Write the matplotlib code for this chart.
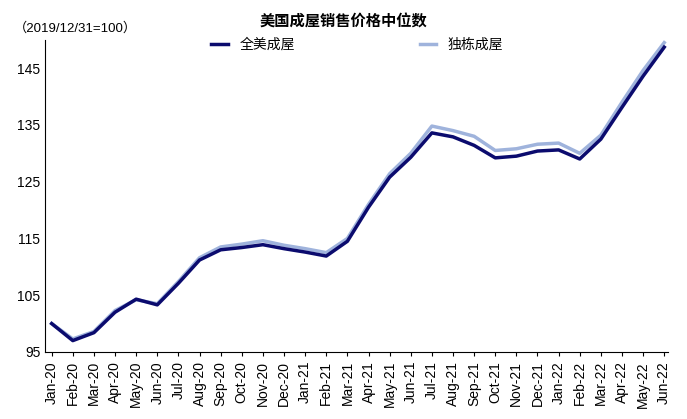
import matplotlib
matplotlib.use("Agg")
import matplotlib.pyplot as plt

plt.rcParams["font.family"] = ["Liberation Sans", "Noto Sans CJK SC"]

months = ["Jan-20","Feb-20","Mar-20","Apr-20","May-20","Jun-20","Jul-20","Aug-20","Sep-20","Oct-20",
          "Nov-20","Dec-20","Jan-21","Feb-21","Mar-21","Apr-21","May-21","Jun-21","Jul-21","Aug-21",
          "Sep-21","Oct-21","Nov-21","Dec-21","Jan-22","Feb-22","Mar-22","Apr-22","May-22","Jun-22"]
all_homes = [100,97,98.4,102,104.3,103.3,107.1,111.2,113,113.4,113.9,113.2,112.6,111.9,114.5,120.5,
             125.8,129.3,133.6,132.9,131.4,129.2,129.5,130.4,130.6,129,132.5,138.1,143.6,148.7]
single_family = [100,97.3,98.6,102.3,104.2,103.5,107.4,111.6,113.5,114,114.6,113.8,113.2,112.5,115,121,
                 126.4,130,134.8,134,133,130.5,130.8,131.6,131.8,130,133.2,139,144.6,149.5]
yticks = [95,105,115,125,135,145]

fig = plt.figure(figsize=(6.87,4.19), dpi=100)
ax = fig.add_axes([0.066, 0.16, 0.907, 0.745])
x = range(len(months))
l1, = ax.plot(x, all_homes, color="#0b0b6e", lw=2.5, label="全美成屋")
l2, = ax.plot(x, single_family, color="#9fb3dc", lw=2.5, label="独栋成屋", zorder=1)
ax.set_xlim(-0.3, len(months)-1+0.2)
ax.set_ylim(95, 150)
ax.set_yticks(yticks)
ax.set_xticks(list(x))
ax.set_xticklabels(months, rotation=90, fontsize=10)
ax.tick_params(axis="y", labelsize=10, length=0)
ax.tick_params(axis="x", length=3, direction="out")
for s in ["top","right"]:
    ax.spines[s].set_visible(False)
fig.text(0.5, 0.947, "美国成屋销售价格中位数", ha="center", va="center", fontsize=11, fontweight="bold")
fig.text(0.02, 0.933, "（2019/12/31=100）", ha="left", va="center", fontsize=9.5)
fig.legend(handles=[l1, l2], loc="center", bbox_to_anchor=(0.52, 0.893), ncol=2, frameon=False,
           fontsize=10, columnspacing=9, handlelength=1.2)
fig.savefig("out.png", dpi=100)
